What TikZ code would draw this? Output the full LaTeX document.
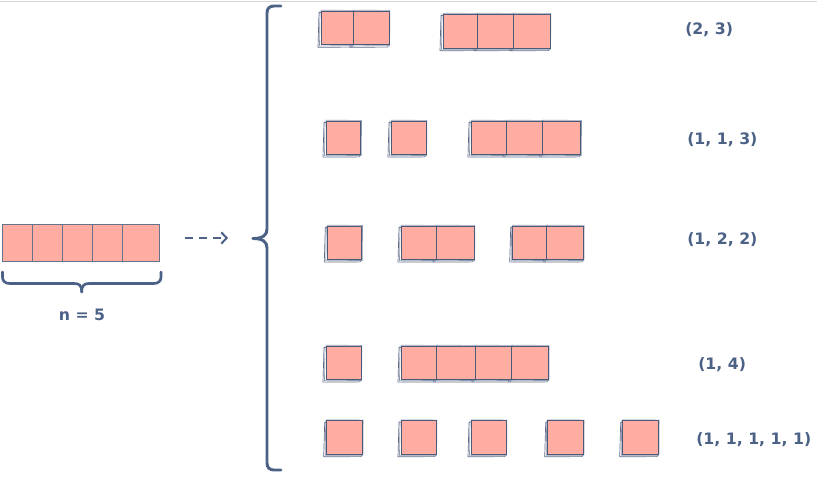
\documentclass[tikz,border=0pt]{standalone}
\usepackage{fontspec}
\setmainfont{DejaVu Sans}
\usetikzlibrary{arrows.meta,calc,backgrounds}
\definecolor{salmon}{HTML}{FFACA2}
\definecolor{sqline}{HTML}{4A5A78}
\definecolor{sketch}{HTML}{5E6C8A}
\definecolor{ink}{HTML}{4B6186}
\definecolor{topline}{HTML}{D6D6D6}
\tikzset{
  sq/.style={draw=sqline, line width=0.55pt, fill=salmon, inner sep=0pt, outer sep=0pt},
  cell/.style={draw=sqline!85, line width=0.6pt, fill=salmon, inner sep=0pt, outer sep=0pt},
  sketchline/.style={draw=sketch, line width=0.5pt},
  lbl/.style={text=ink, font=\bfseries\fontsize{11.8}{14}\selectfont, inner sep=0pt, anchor=west},
  bracestyle/.style={draw=ink, line width=2.2pt, line cap=round},
  dasharrow/.style={draw=ink, line width=1.8pt, dash pattern=on 6pt off 4.5pt, -{Straight Barb[length=4pt,width=8.5pt,line width=1.5pt]}}
}
\newcommand\sqb[5]{\node[sq, minimum width={(#4-#2)*0.75pt}, minimum height={(#5-#3)*0.75pt}] (#1) at ({(#2+#4)/2},{(#3+#5)/2}) {};}
\newcommand\cellb[5]{\node[cell, minimum width={(#4-#2)*0.75pt}, minimum height={(#5-#3)*0.75pt}] (#1) at ({(#2+#4)/2},{(#3+#5)/2}) {};}
\begin{document}
\begin{tikzpicture}[x=0.75pt, y=-0.75pt]
\useasboundingbox (0,0) rectangle (817,478);
% top rule
\draw[topline, line width=1.2pt] (0,1.5) -- (817,1.5);

% left bar of n = 5 cells
\cellb{c1}{2.7}{224.3}{32.3}{261.3}
\cellb{c2}{32.3}{224.3}{62.3}{261.3}
\cellb{c3}{62.3}{224.3}{92.3}{261.3}
\cellb{c4}{92.3}{224.3}{122.3}{261.3}
\cellb{c5}{122.3}{224.3}{159.7}{261.3}

% under-brace
\draw[bracestyle, line width=2pt] (2.5,272) -- (2.5,277) .. controls (2.5,281) and (5,283.5) .. (10,283.5) -- (74,283.5) .. controls (79,283.5) and (81.7,285) .. (81.7,292);
\draw[bracestyle, line width=2pt] (161,272) -- (161,277) .. controls (161,281) and (158.5,283.5) .. (153.5,283.5) -- (89.5,283.5) .. controls (84.5,283.5) and (81.7,285) .. (81.7,292);
\node[lbl, anchor=center] (nlab) at (82,315) {n = 5};

% dashed arrow
\coordinate (arrS) at (185,238);
\coordinate (arrE) at (228,238);
\draw[dasharrow] (arrS) -- (arrE);

% big brace
\draw[bracestyle] (281,6) -- (274,6) .. controls (269.5,6) and (267,8.5) .. (267,13) -- (267,229) .. controls (267,235) and (263,238.5) .. (253,238.5);
\draw[bracestyle] (253,238.5) .. controls (263,238.5) and (267,242) .. (267,248) -- (267,463) .. controls (267,467.5) and (269.5,470) .. (274,470) -- (281,470);

% row 1: (2, 3)
\sqb{a1}{321}{11}{353}{44.5}
\sqb{a2}{353}{11}{389}{44.5}
\sqb{a3}{443}{14}{477}{48}
\sqb{a4}{477}{14}{513}{48}
\sqb{a5}{513}{14}{550}{48}
\node[lbl] (l1) at (685,30) {(2, 3)};

% row 2: (1, 1, 3)
\sqb{b1}{326}{121}{360.7}{154.3}
\sqb{b2}{391}{121}{426}{154.3}
\sqb{b3}{471}{121}{506}{154.3}
\sqb{b4}{506}{121}{542.7}{154.3}
\sqb{b5}{542.7}{121}{580.7}{154.3}
\node[lbl] (l2) at (687,140) {(1, 1, 3)};

% row 3: (1, 2, 2)
\sqb{d1}{327.3}{226}{361.7}{259.3}
\sqb{d2}{401}{226}{436}{259.3}
\sqb{d3}{436}{226}{474}{259.3}
\sqb{d4}{512.7}{226}{546.7}{259.3}
\sqb{d5}{546.7}{226}{583.3}{259.3}
\node[lbl] (l3) at (687,240) {(1, 2, 2)};

% row 4: (1, 4)
\sqb{e1}{326}{346}{361}{379.3}
\sqb{e2}{401}{346}{436.7}{379.3}
\sqb{e3}{436.7}{346}{475}{379.3}
\sqb{e4}{475}{346}{511.7}{379.3}
\sqb{e5}{511.7}{346}{548.3}{379.3}
\node[lbl] (l4) at (698,365) {(1, 4)};

% row 5: (1, 1, 1, 1, 1)
\sqb{f1}{326.7}{420.7}{362.3}{454}
\sqb{f2}{401}{420.7}{436}{454}
\sqb{f3}{471}{420.7}{506}{454}
\sqb{f4}{547.7}{420.7}{583.3}{454}
\sqb{f5}{622.7}{420.7}{658.3}{454}
\node[lbl] (l5) at (696,440) {(1, 1, 1, 1, 1)};

% sketchy second strokes behind the squares
\begin{pgfonlayer}{background}
\fill[white] (0,0) rectangle (817,478);
\foreach \n in {a1,a2,a3,a4,a5,b1,b2,b3,b4,b5,d1,d2,d3,d4,d5,e1,e2,e3,e4,e5,f1,f2,f3,f4,f5}{
  \draw[sketchline] ($(\n.north west)+(-2,1.5)$) -- ($(\n.south west)+(-3,2.8)$) -- ($(\n.south east)+(-1,2.6)$) -- ($(\n.north east)+(0.5,0.5)$) -- cycle;
  \draw[sketchline, draw=sketch!70] ($(\n.north west)+(-1,0)$) -- ($(\n.south west)+(-1.5,1.4)$) -- ($(\n.south east)+(0.6,1.2)$) -- ($(\n.north east)+(0.8,-0.6)$) -- ($(\n.north west)+(-0.5,-0.8)$);
}
\end{pgfonlayer}
\end{tikzpicture}
\end{document}
